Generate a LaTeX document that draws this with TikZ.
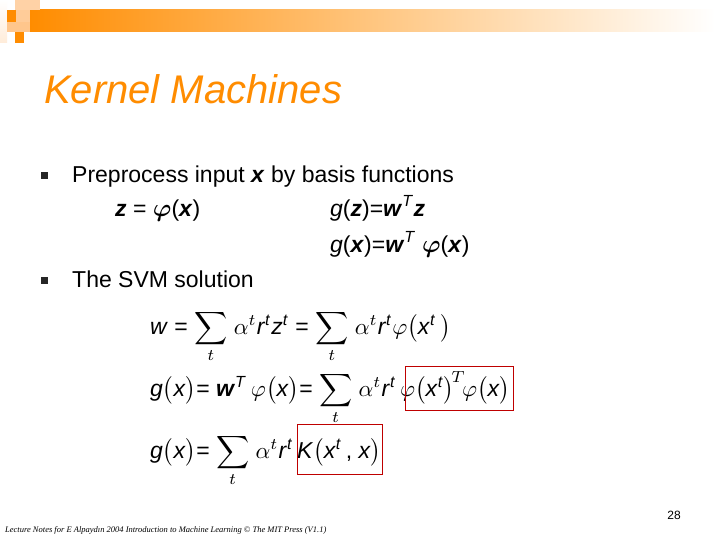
\documentclass[tikz,border=0pt]{standalone}
\usepackage{fontspec}
\setmainfont{Liberation Sans}
\newfontfamily\timesf{Liberation Serif}
\usepackage{amsmath,graphicx}
\newcommand\ii[1]{\textit{#1}}
\newcommand\supi[1]{\textsuperscript{\textit{#1}}}
\newcommand\bs{\displaystyle\sum_{t}}
\begin{document}
\begin{tikzpicture}[x=1pt,y=-1pt,
  txt/.style={anchor=base west,inner sep=0pt,font=\fontsize{23}{27}\selectfont},
  eq/.style={anchor=base west,inner sep=0pt,font=\fontsize{10}{12}\selectfont},
  bul/.style={fill=black!85,minimum size=7pt,inner sep=0pt},
  redbox/.style={draw=red!75!black,line width=0.8pt}]
\useasboundingbox (0,0) rectangle (720,540);
\fill[white] (0,0) rectangle (720,540);
% header decoration
\shade[left color=orange!90!yellow,right color=white] (30,10) rectangle (715,32);
\shade[top color=white,bottom color=orange!15] (0,0) rectangle (7,43);
\fill[orange!35] (15,0) rectangle (40,10);
\fill[orange!90!yellow] (7,10) rectangle (16,22);
\fill[orange!40] (16,10) rectangle (30,22);
\fill[orange!45] (7,22) rectangle (30,32);
\fill[orange!90!yellow] (15,32) rectangle (24,43);
% title
\node[anchor=base west,inner sep=0pt,text=orange!90!yellow,font=\fontsize{40}{46}\selectfont\itshape] (title) at (44,104) {Kernel Machines};
% bullets
\node[bul] (b1) at (44,176) {};
\node[bul] (b2) at (44,280) {};
\node[txt] (l1) at (72,183) {Preprocess input \textbf{\textit{x}} by basis functions};
\node[txt] (l2) at (115,216) {\textbf{\textit{z}} = $\boldsymbol{\varphi}$(\textbf{\textit{x}})};
\node[txt] (l3) at (330,216) {\textit{g}(\textbf{\textit{z}})=\textbf{\textit{w}}\textsuperscript{\textit{T}}\textbf{\textit{z}}};
\node[txt] (l4) at (330,252) {\textit{g}(\textbf{\textit{x}})=\textbf{\textit{w}}\textsuperscript{\textit{T}} $\boldsymbol{\varphi}$(\textbf{\textit{x}})};
\node[txt] (l5) at (72,287) {The SVM solution};
% equations
\node[eq] (e1) at (150,334) {\scalebox{2.3}{\ii{w} = $\bs$ $\alpha^{t}$\ii{r}\supi{t}\ii{z}\supi{t} = $\bs$ $\alpha^{t}$\ii{r}\supi{t}$\varphi\bigl($\ii{x}\supi{t}$\,\bigr)$}};
\node[eq] (e2) at (150,396) {\scalebox{2.3}{\ii{g}$\bigl($\ii{x}$\bigr)$= \textbf{\ii{w}}\supi{T}$\,\varphi\bigl($\ii{x}$\bigr)$= $\bs$ $\alpha^{t}$\ii{r}\supi{t}\,$\varphi\bigl($\ii{x}\supi{t}$\bigr)^{\!T}\!\varphi\bigl($\ii{x}$\bigr)$}};
\node[eq] (e3) at (150,458) {\scalebox{2.3}{\ii{g}$\bigl($\ii{x}$\bigr)$= $\bs$ $\alpha^{t}$\ii{r}\supi{t}\,\ii{K}$\bigl($\ii{x}\supi{t}\,, \ii{x}$\bigr)$}};
\draw[redbox] (405,366) rectangle (513,410);
\draw[redbox] (297,424) rectangle (382,474);
% footer
\node[anchor=base east,inner sep=0pt,font=\fontsize{12}{14}\selectfont] (pg) at (681,519) {28};
\node[anchor=base west,inner sep=0pt,font=\timesf\itshape\fontsize{8.5}{10}\selectfont] (foot) at (5,532) {Lecture Notes for E Alpaydın 2004 Introduction to Machine Learning © The MIT Press (V1.1)};
\end{tikzpicture}
\end{document}
